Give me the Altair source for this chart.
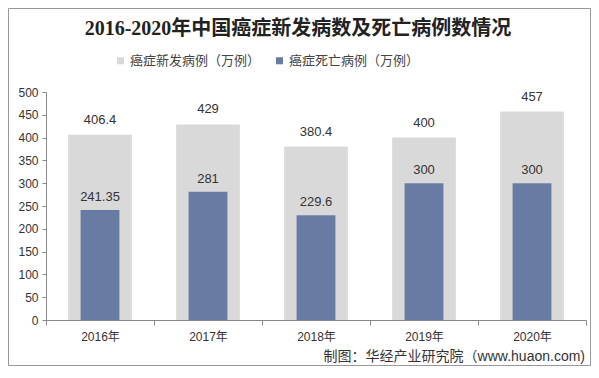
import altair as alt
import pandas as pd

years = ["2016年", "2017年", "2018年", "2019年", "2020年"]
new_cases = [406.4, 429, 380.4, 400, 457]
deaths = [241.35, 281, 229.6, 300, 300]
s_new = "癌症新发病例（万例）"
s_death = "癌症死亡病例（万例）"
title_text = "2016-2020年中国癌症新发病数及死亡病例数情况"
source_text = "制图：华经产业研究院（www.huaon.com)"

rows = []
for y, n, d in zip(years, new_cases, deaths):
    rows.append({"year": y, "series": s_new, "value": n, "label": f"{n:g}"})
    rows.append({"year": y, "series": s_death, "value": d, "label": f"{d:g}"})
df = pd.DataFrame(rows)

W, H = 540, 228
FONT = "Liberation Sans, Noto Sans CJK SC"

x = alt.X("year:N", sort=years, title=None,
          scale=alt.Scale(paddingInner=0, paddingOuter=0),
          axis=alt.Axis(labelAngle=0, tickBand="extent", labelFontSize=12,
                        labelColor="#333", labelFont=FONT, domainColor="#888",
                        tickColor="#888", tickSize=5, labelPadding=6))
y = alt.Y("value:Q", title=None,
          scale=alt.Scale(domain=[0, 500]),
          axis=alt.Axis(values=list(range(0, 501, 50)), grid=False, labelFontSize=12,
                        labelOverlap=False, labelColor="#333", labelFont=FONT,
                        domainColor="#888", tickColor="#888", tickSize=4, labelPadding=4))
color = alt.Color("series:N",
                  scale=alt.Scale(domain=[s_new, s_death], range=["#d9d9d9", "#687ca3"]),
                  legend=alt.Legend(title=None, orient="none", direction="horizontal",
                                    legendX=68, legendY=-38, symbolType="square",
                                    symbolSize=50, symbolStrokeWidth=0, labelFontSize=13,
                                    labelColor="#444", labelFont=FONT, columnPadding=12,
                                    labelOffset=3))

base = alt.Chart(df)
bar_new = base.transform_filter(alt.datum.series == s_new).mark_bar(
    width=alt.RelativeBandSize(0.59)).encode(x=x, y=y, color=color)
bar_death = base.transform_filter(alt.datum.series == s_death).mark_bar(
    width=alt.RelativeBandSize(0.36)).encode(x=x, y=y, color=color)
lab_new = base.transform_filter(alt.datum.series == s_new).mark_text(
    baseline="bottom", dy=-8, fontSize=13, color="#333", font=FONT).encode(
    x=x, y=y, text="label:N")
lab_death = base.transform_filter(alt.datum.series == s_death).mark_text(
    baseline="bottom", dy=-6, fontSize=13, color="#333", font=FONT).encode(
    x=x, y=y, text="label:N")

title = alt.Chart(pd.DataFrame({"t": [title_text]})).mark_text(
    fontSize=20, fontWeight="bold", color="#222",
    font="Liberation Serif, Noto Sans CJK SC", baseline="middle").encode(
    x=alt.value(252), y=alt.value(-63), text="t:N")
source = alt.Chart(pd.DataFrame({"t": [source_text]})).mark_text(
    fontSize=14, color="#333", font=FONT, align="right", baseline="middle").encode(
    x=alt.value(W - 1), y=alt.value(H + 37), text="t:N")
border = alt.Chart(pd.DataFrame({"a": [0]})).mark_rect(
    fill=None, stroke="#999", strokeWidth=1).encode(
    x=alt.value(-37.5), x2=alt.value(W + 4.5), y=alt.value(-83.5), y2=alt.value(H + 45.5))

chart = alt.layer(border, bar_new, bar_death, lab_new, lab_death, title, source).properties(
    width=W, height=H,
    autosize=alt.AutoSizeParams(type="none"),
    padding={"left": 38, "top": 84, "right": 5, "bottom": 50},
    background="white",
).configure_view(stroke=None)

chart.save("out.html", embed_options={"renderer": "svg", "actions": False})
